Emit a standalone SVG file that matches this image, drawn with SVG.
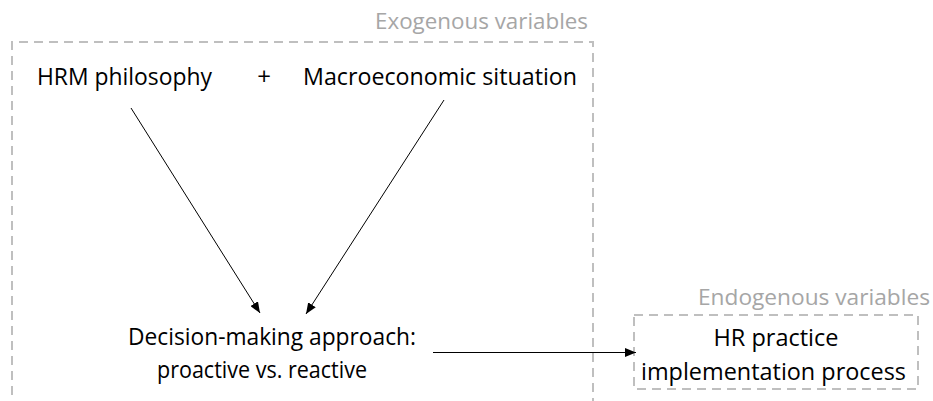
<svg xmlns="http://www.w3.org/2000/svg" width="933" height="401" viewBox="0 0 933 401">
  <style>
    .frame { fill: none; stroke: #bfbfbf; stroke-width: 2; stroke-dasharray: 9 6; }
    .title { font-family: "Open Sans", "Liberation Sans", sans-serif; font-size: 22.5px; fill: #a6a6a6; }
    .label { font-family: "Open Sans", "Liberation Sans", sans-serif; font-size: 24px; fill: #000; }
    .link { fill: none; stroke: #000; stroke-width: 1; marker-end: url(#head); }
  </style>
  <defs>
    <marker id="head" viewBox="0 0 11 9" refX="11" refY="4.5" markerWidth="11" markerHeight="9" markerUnits="userSpaceOnUse" orient="auto">
      <path d="M0,0 L11,4.5 L0,9 z" fill="#000"/>
    </marker>
  </defs>

  <rect width="933" height="401" fill="#fff"/>

  <!-- exogenous frame, open at the bottom edge -->
  <g id="exogenous">
    <path class="frame" d="M12,410 L12,42 L593,42 L593,410"/>
    <text class="title" x="588" y="29" text-anchor="end" textLength="213" lengthAdjust="spacingAndGlyphs">Exogenous variables</text>
  </g>

  <!-- endogenous frame -->
  <g id="endogenous">
    <rect class="frame" x="634" y="315" width="284" height="74"/>
    <text class="title" x="930" y="305" text-anchor="end" textLength="232" lengthAdjust="spacingAndGlyphs">Endogenous variables</text>
  </g>

  <g id="hrm">
    <text class="label" x="37" y="85" textLength="175" lengthAdjust="spacingAndGlyphs">HRM philosophy</text>
  </g>
  <g id="plus">
    <text class="label" x="264" y="85" text-anchor="middle">+</text>
  </g>
  <g id="macro">
    <text class="label" x="303" y="85" textLength="274" lengthAdjust="spacingAndGlyphs">Macroeconomic situation</text>
  </g>
  <g id="decision">
    <text class="label" x="128" y="345" textLength="288" lengthAdjust="spacingAndGlyphs">Decision-making approach:</text>
    <text class="label" x="157" y="378" textLength="210" lengthAdjust="spacingAndGlyphs">proactive vs. reactive</text>
  </g>
  <g id="practice">
    <text class="label" x="776" y="346" text-anchor="middle" textLength="125" lengthAdjust="spacingAndGlyphs">HR practice</text>
    <text class="label" x="641" y="380" textLength="265" lengthAdjust="spacingAndGlyphs">implementation process</text>
  </g>

  <g id="connectors">
    <line class="link" x1="131" y1="108" x2="260" y2="313"/>
    <line class="link" x1="444" y1="100" x2="306" y2="314"/>
    <line class="link" x1="433" y1="352.5" x2="636" y2="352.5"/>
  </g>
</svg>
